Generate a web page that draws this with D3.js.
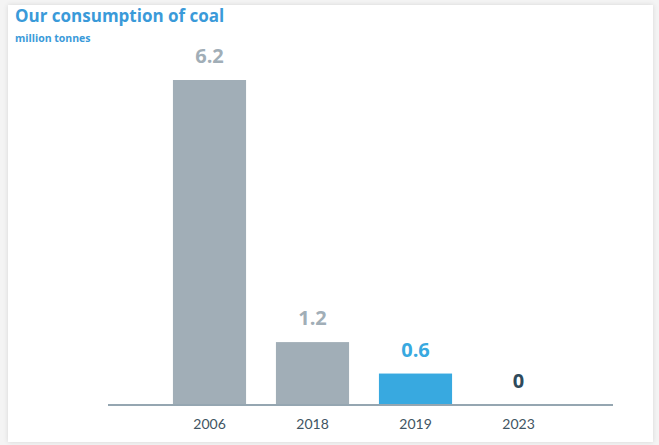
<!DOCTYPE html>
<html>
<head>
<meta charset="utf-8">
<script src="https://cdn.jsdelivr.net/npm/d3@7"></script>
<style>
  html, body { margin: 0; padding: 0; background: #f4f4f4; }
  .card {
    position: absolute; left: 8px; top: 5px; width: 645px; height: 437px;
    background: #fff; box-shadow: 0 0 5px rgba(0,0,0,0.12);
  }
  svg { position: absolute; left: 0; top: 0; }
</style>
</head>
<body>
<div class="card"></div>
<svg id="chart"></svg>
<script>
const years = ["2006", "2018", "2019", "2023"];
const values = [6.2, 1.2, 0.6, 0];
const labels = ["6.2", "1.2", "0.6", "0"];
const highlight = "2019";

const width = 659, height = 445;
const font = "'Open Sans', sans-serif";

const svg = d3.select("#chart")
  .attr("width", width)
  .attr("height", height);

// title block
svg.append("text")
  .attr("x", 15).attr("y", 22)
  .attr("font-family", font)
  .attr("font-size", 17)
  .attr("font-weight", "bold")
  .attr("fill", "#3a9ad9")
  .text("Our consumption of coal");

svg.append("text")
  .attr("x", 15).attr("y", 42)
  .attr("font-family", font)
  .attr("font-size", 10.5)
  .attr("font-weight", "bold")
  .attr("fill", "#3a9ad9")
  .text("million tonnes");

const x = d3.scaleBand()
  .domain(years)
  .range([158, 570])
  .paddingInner(0.29)
  .paddingOuter(0.145);

const y = d3.scaleLinear()
  .domain([0, 6.2])
  .range([405, 80]);

const color = d => d === highlight ? "#38a9e0" : "#a1aeb7";

svg.append("g")
  .selectAll("rect")
  .data(years)
  .join("rect")
  .attr("x", d => x(d))
  .attr("width", x.bandwidth())
  .attr("y", (d, i) => y(values[i]))
  .attr("height", (d, i) => y(0) - y(values[i]))
  .attr("fill", color);

// value labels
svg.append("g")
  .attr("font-family", font)
  .attr("font-size", 20)
  .attr("font-weight", "bold")
  .attr("text-anchor", "middle")
  .selectAll("text")
  .data(years)
  .join("text")
  .attr("x", d => x(d) + x.bandwidth() / 2)
  .attr("y", (d, i) => y(values[i]) - 17)
  .attr("fill", (d, i) => values[i] === 0 ? "#2e4a5b" : color(d))
  .text((d, i) => labels[i]);

// axis
const axis = svg.append("g")
  .attr("transform", `translate(0,${y(0)})`)
  .call(d3.axisBottom(x).tickSize(0).tickPadding(14));
axis.select(".domain").remove();
axis.selectAll("text")
  .attr("font-family", "Lato, sans-serif")
  .attr("font-size", 14)
  .attr("fill", "#3f5563");

svg.append("line")
  .attr("x1", 108).attr("x2", 613)
  .attr("y1", y(0)).attr("y2", y(0))
  .attr("stroke", "#95a6b1")
  .attr("stroke-width", 2);
</script>
</body>
</html>
